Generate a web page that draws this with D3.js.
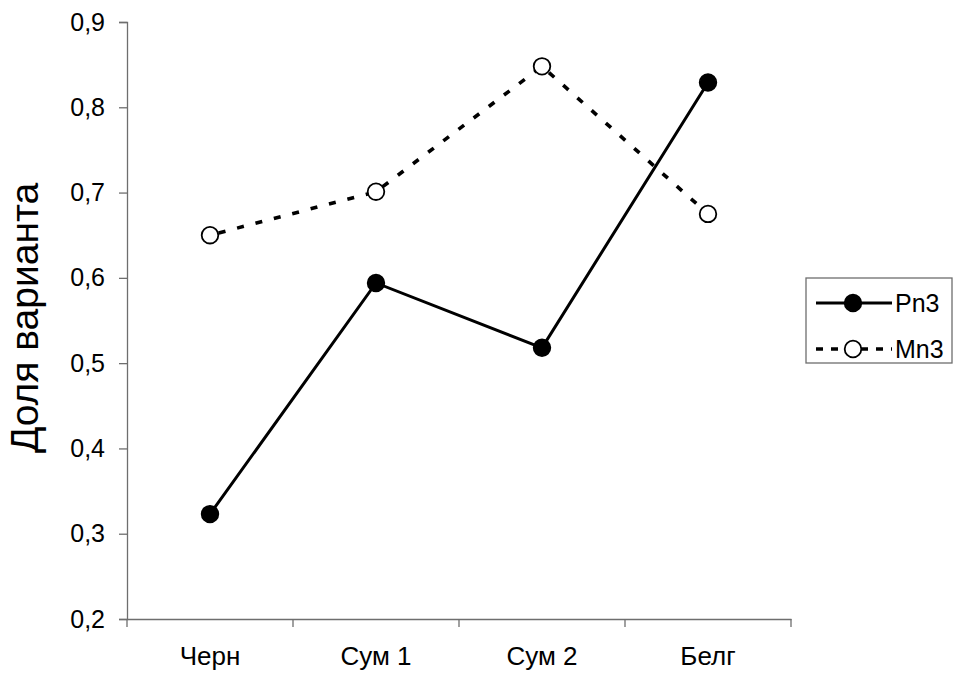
<!DOCTYPE html>
<html lang="ru">
<head>
  <meta charset="UTF-8">
  <title>Доля варианта</title>
  <script src="https://cdn.jsdelivr.net/npm/d3@7/dist/d3.min.js"></script>
  <style>
    body {
      margin: 0;
      background: #fff;
      font-family: 'Liberation Sans', Arial, sans-serif;
    }
  </style>
</head>
<body>
  <svg id="chart" width="954" height="673"></svg>

  <script>
    const categories = ["Черн", "Сум 1", "Сум 2", "Белг"];
    const pn3 = [0.323, 0.594, 0.518, 0.829];
    const mn3 = [0.650, 0.701, 0.848, 0.675];
    const yTicks = [0.2, 0.3, 0.4, 0.5, 0.6, 0.7, 0.8, 0.9];

    const svg = d3.select("#chart");
    const plotLeft = 127, plotRight = 791, plotTop = 22, plotBottom = 619;

    const x = d3.scaleBand().domain(categories).range([plotLeft, plotRight]);
    const y = d3.scaleLinear().domain([0.2, 0.9]).range([plotBottom, plotTop]);
    const fmt = d => d3.format(".1f")(d).replace(".", ",");

    // y axis
    const yAxis = svg.append("g")
      .attr("transform", `translate(${plotLeft},0)`)
      .call(d3.axisLeft(y).tickValues(yTicks).tickFormat(fmt).tickSize(8).tickPadding(14));

    // x axis, ticks at band edges
    const xAxis = svg.append("g")
      .attr("transform", `translate(0,${plotBottom})`)
      .call(d3.axisBottom(x).tickSize(0).tickPadding(28));
    xAxis.selectAll(".edge")
      .data(d3.range(categories.length + 1))
      .enter().append("line")
      .attr("class", "edge")
      .attr("x1", i => plotLeft + i * x.step())
      .attr("x2", i => plotLeft + i * x.step())
      .attr("y1", 0).attr("y2", 8);

    [yAxis, xAxis].forEach(g => {
      g.select(".domain").attr("stroke", "#6e6e6e").attr("stroke-width", 1.3);
      g.selectAll("line").attr("stroke", "#6e6e6e").attr("stroke-width", 1.3);
      g.selectAll("text").attr("font-family", "'Liberation Sans', Arial, sans-serif")
        .attr("font-size", 25).attr("fill", "#000");
    });
    xAxis.selectAll("text").attr("font-size", 26);

    svg.append("text")
      .attr("transform", `translate(38,318) rotate(-90)`)
      .attr("text-anchor", "middle")
      .attr("font-size", 39)
      .attr("fill", "#000")
      .text("Доля варианта");

    const line = d3.line()
      .x((d, i) => x(categories[i]) + x.bandwidth() / 2)
      .y(d => y(d));

    const series = [
      { name: "Pn3", values: pn3, dash: null, legendDash: null, width: 3, fill: "#000" },
      { name: "Mn3", values: mn3, dash: "7,12", legendDash: "7,8", width: 3.6, fill: "#fff" }
    ];

    series.slice().reverse().forEach(s => {
      svg.append("path")
        .datum(s.values)
        .attr("d", line)
        .attr("fill", "none")
        .attr("stroke", "#000")
        .attr("stroke-width", s.width)
        .attr("stroke-dasharray", s.dash)
        .attr("stroke-dashoffset", -9);

      svg.selectAll(null)
        .data(s.values)
        .enter().append("circle")
        .attr("cx", (d, i) => x(categories[i]) + x.bandwidth() / 2)
        .attr("cy", d => y(d))
        .attr("r", 8.3)
        .attr("fill", s.fill)
        .attr("stroke", "#000")
        .attr("stroke-width", 1.8);
    });

    // legend
    const legend = svg.append("g");
    legend.append("rect")
      .attr("x", 806).attr("y", 278)
      .attr("width", 146).attr("height", 85)
      .attr("fill", "#fff")
      .attr("stroke", "#6e6e6e")
      .attr("stroke-width", 1.3);

    series.forEach((s, i) => {
      const ly = 303 + i * 46;
      legend.append("line")
        .attr("x1", 816).attr("x2", 892)
        .attr("y1", ly).attr("y2", ly)
        .attr("stroke", "#000")
        .attr("stroke-width", s.width)
        .attr("stroke-dasharray", s.legendDash);
      legend.append("circle")
        .attr("cx", 853).attr("cy", ly)
        .attr("r", 8.3)
        .attr("fill", s.fill)
        .attr("stroke", "#000")
        .attr("stroke-width", 1.8);
      legend.append("text")
        .attr("x", 895).attr("y", ly)
        .attr("dy", "0.35em")
        .attr("font-size", 25)
        .attr("fill", "#000")
        .text(s.name);
    });
  </script>
</body>
</html>
